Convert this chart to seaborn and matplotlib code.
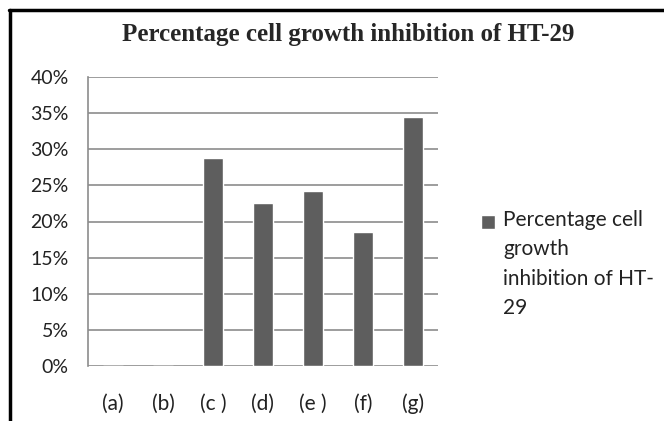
import seaborn as sns
import matplotlib.pyplot as plt
import matplotlib.lines as mlines
from matplotlib.patches import Rectangle
from matplotlib.container import BarContainer
from matplotlib.legend_handler import HandlerPatch
import pandas as pd

# values (fraction of growth inhibited)
samples = ["(a)", "(b)", "(c )", "(d)", "(e )", "(f)", "(g)"]
inhibition = [0.0, 0.0, 0.288, 0.225, 0.242, 0.186, 0.344]
yticks = [0.0, 0.05, 0.10, 0.15, 0.20, 0.25, 0.30, 0.35, 0.40]
title = "Percentage cell growth inhibition of HT-29"
legend_label = "Percentage cell\ngrowth\ninhibition of HT-\n29"

bar_c = "#5e5e5e"
grid_c = "#8c8c8c"
text_c = "#222222"

sns.set_style("white")
plt.rcParams["font.family"] = ["Lato", "DejaVu Sans"]

df = pd.DataFrame({"sample": samples, "value": inhibition})

fig = plt.figure(figsize=(6.64, 4.21), dpi=100)
ax = fig.add_axes([88 / 664, 55 / 421, 350 / 664, 289 / 421])

sns.barplot(
    data=df, x="sample", y="value", color=bar_c, saturation=1,
    width=0.4, label=legend_label, ax=ax, zorder=3,
)

ax.set_xlim(-0.5, len(samples) - 0.5)
ax.set_ylim(0, 0.4)
ax.set_yticks(yticks)
ax.set_yticklabels([f"{int(round(t * 100))}%" for t in yticks])
ax.set_xlabel("")
ax.set_ylabel("")

for t in yticks:
    ax.axhline(t, color=grid_c, lw=1.2, zorder=1)
for side in ["top", "right", "bottom"]:
    ax.spines[side].set_visible(False)
ax.spines["left"].set_color(grid_c)
ax.spines["left"].set_linewidth(1.2)

ax.tick_params(axis="y", length=8, color=grid_c, width=1.2, labelsize=14,
               pad=6, labelcolor=text_c)
ax.tick_params(axis="x", which="major", length=0, labelsize=15, pad=20,
               labelcolor=text_c)
ax.set_xticks([i - 0.5 for i in range(1, len(samples) + 1)], minor=True)
ax.tick_params(axis="x", which="minor", length=7, color=grid_c, width=1.2,
               direction="out")

fig.text(348 / 664, 1 - 34 / 421, title, ha="center", va="center",
         family="Liberation Serif", weight="bold", fontsize=18)


# legend square sits next to the first line of the wrapped label
def top_square(legend, orig_handle, xdescent, ydescent, width, height, fontsize):
    side = 0.68 * fontsize
    shift = 2.05 * fontsize
    return Rectangle((-xdescent, -ydescent + shift), side, side)


def first_bar_style(legend_handle, orig_handle):
    legend_handle.update_from(orig_handle.patches[0])


leg = ax.legend(loc="upper left", bbox_to_anchor=(481 / 664, 1 - 210 / 421),
                bbox_transform=fig.transFigure, frameon=False, fontsize=15,
                handlelength=0.7, handleheight=0.7, handletextpad=0.35,
                borderpad=0, borderaxespad=0,
                handler_map={BarContainer: HandlerPatch(
                    patch_func=top_square, update_func=first_bar_style)})
for txt in leg.get_texts():
    txt.set_linespacing(1.58)
    txt.set_color(text_c)
for h in leg.legend_handles:
    h.set_facecolor(bar_c)

# outer frame: only top and left edges remain in the cropped image
fig.add_artist(mlines.Line2D([9 / 664, 1], [1 - 10 / 421, 1 - 10 / 421],
                             transform=fig.transFigure, color="black", lw=2.5))
fig.add_artist(mlines.Line2D([10 / 664, 10 / 664], [0, 1 - 10 / 421],
                             transform=fig.transFigure, color="black", lw=2.5))

fig.savefig("out.png", dpi=100)
